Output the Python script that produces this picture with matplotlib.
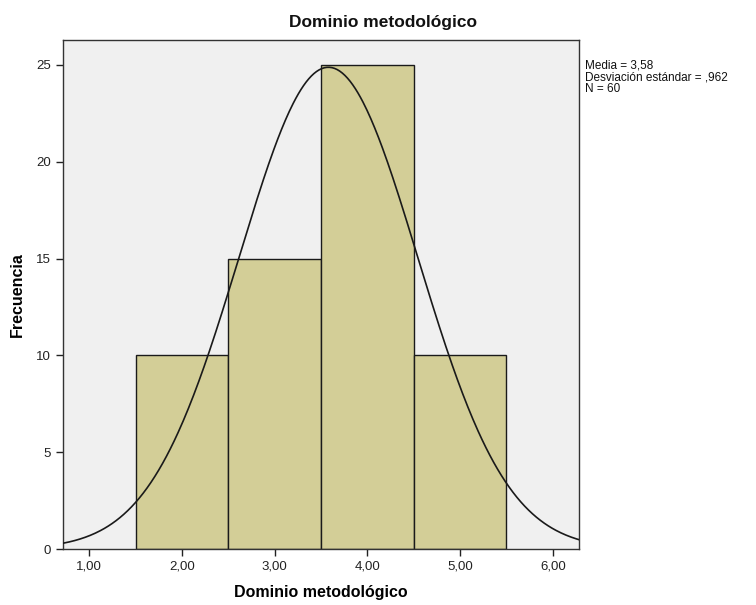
import matplotlib.pyplot as plt
import numpy as np

plt.rcParams['font.family'] = ['Liberation Sans', 'DejaVu Sans']

# histogram data
bin_centers = [2.0, 3.0, 4.0, 5.0]
counts = [10, 15, 25, 10]
media = 3.58
desv = 0.962
n_total = 60
bin_width = 1.0

xticks = [1, 2, 3, 4, 5, 6]
xtick_labels = ['1,00', '2,00', '3,00', '4,00', '5,00', '6,00']
yticks = [0, 5, 10, 15, 20, 25]

fig = plt.figure(figsize=(7.56, 6.05), dpi=100)
ax = fig.add_axes([63 / 756, 1 - 549 / 605, (579 - 63) / 756, (549 - 40) / 605])
ax.set_facecolor('#f0f0f0')

ax.bar(bin_centers, counts, width=bin_width, color='#d3ce97',
       edgecolor='#1a1a1a', linewidth=1.0, zorder=2)

# fitted normal curve scaled to frequencies
xs = np.linspace(0.718, 6.282, 400)
ys = n_total * bin_width / (desv * np.sqrt(2 * np.pi)) * np.exp(-0.5 * ((xs - media) / desv) ** 2)
ax.plot(xs, ys, color='#1a1a1a', linewidth=1.2, zorder=3)

ax.set_xlim(0.718, 6.282)
ax.set_ylim(0, 26.29)
ax.set_xticks(xticks)
ax.set_xticklabels(xtick_labels)
ax.set_yticks(yticks)
ax.tick_params(direction='out', length=5, width=1, labelsize=9.5, colors='#222222')

for side in ['left', 'bottom', 'right', 'top']:
    ax.spines[side].set_color('#333333')
    ax.spines[side].set_linewidth(1)

fig.text(0.507, 1 - 22 / 605, 'Dominio metodológico', ha='center', va='center',
         fontsize=12.5, fontweight='bold', color='#111111')
ax.set_xlabel('Dominio metodológico', fontsize=11.5, fontweight='bold', labelpad=9)
ax.set_ylabel('Frecuencia', fontsize=11.5, fontweight='bold', labelpad=8)

ax.text(1.012, 0.962, 'Media = 3,58\nDesviación estándar = ,962\nN = 60',
        transform=ax.transAxes, ha='left', va='top', fontsize=8.5,
        linespacing=1.0, color='#111111')

fig.savefig('out.png', dpi=100)
